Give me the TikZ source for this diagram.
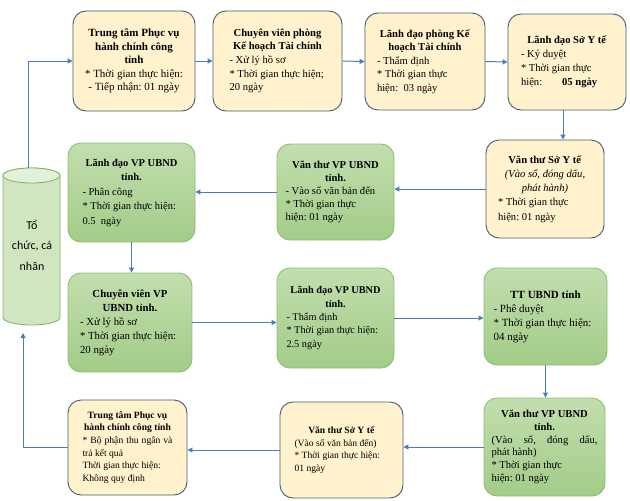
\documentclass[tikz,border=0pt]{standalone}
\usepackage{fontspec}
\setmainfont{Liberation Serif}
\newfontfamily\calib{Carlito}
\usetikzlibrary{arrows.meta}
\definecolor{yfill}{HTML}{FFF2CC}
\definecolor{ybord}{HTML}{4A5A6E}
\definecolor{gtop}{HTML}{C2DEAE}
\definecolor{gbot}{HTML}{A3CC88}
\definecolor{gbord}{HTML}{8DBF72}
\definecolor{cylf}{HTML}{D0E6C0}
\definecolor{cylt}{HTML}{E4F1DA}
\definecolor{cylb}{HTML}{7FB463}
\definecolor{arrc}{HTML}{4A7EBB}
\newcommand{\cl}[1]{\makebox[\hsize][c]{#1}}
\newcommand{\jl}[1]{\makebox[\hsize][s]{#1}}
\newcommand{\bl}[1]{\mbox{#1}}
\newcommand{\fs}[2]{\fontsize{#1}{#2}\selectfont}
\setlength{\parindent}{0pt}
\frenchspacing
\begin{document}
\begin{tikzpicture}[x=1pt,y=-1pt,
 box/.style={rectangle, rounded corners=13pt, line width=0.9pt, align=flush left, inner xsep=2pt, inner ysep=2pt},
 ybox/.style={box, draw=ybord, fill=yfill},
 gbox/.style={box, draw=gbord, top color=gtop, bottom color=gbot},
 arr/.style={draw=arrc, line width=1pt, -{Triangle[length=5pt,width=5pt]}}
 ]
\useasboundingbox (0,0) rectangle (630,501);
\fill[white] (0,0) rectangle (630,501);

% cylinder
\path[draw=cylb, fill=cylf, line width=0.8pt] (3,175.5) -- (3,317.5)
  arc[start angle=180, end angle=360, x radius=28.5pt, y radius=7.5pt] -- (60,175.5)
  arc[start angle=0, end angle=180, x radius=28.5pt, y radius=7.5pt] -- cycle;
\path[draw=cylb, fill=cylt, line width=0.8pt] (31.5,175.5) ellipse[x radius=28.5pt, y radius=7.5pt];
\node[font=\calib\fs{12}{20.5}, align=center] (cyl) at (32,245) {Tổ\\chức, cá\\nhân};
\coordinate (cyltop) at (28,168);
\coordinate (cylbot) at (23,333);

% row 1
\node[ybox, minimum width=122pt, minimum height=100pt, text width=112pt, align=flush center, font=\fs{11}{13.6}] (b1) at (134,61)
 {\bl{\textbf{Trung tâm Phục vụ}}\\\bl{\textbf{hành chính công}}\\\textbf{tỉnh}\\\bl{* Thời gian thực hiện:}\\\bl{- Tiếp nhận: 01 ngày}};
\node[ybox, minimum width=129pt, minimum height=100pt, text width=96pt, font=\fs{10.6}{13.6}] (b2) at (277.5,61)
 {\cl{\textbf{Chuyên viên phòng}}\\\cl{\textbf{Kế hoạch Tài chính}}\\\bl{- Xử lý hồ sơ}\\\bl{* Thời gian thực hiện;}\\\bl{20 ngày}};
\node[ybox, minimum width=120pt, minimum height=97pt, text width=96pt, font=\fs{10.6}{13.6}] (b3) at (425,61.5)
 {\cl{\textbf{Lãnh đạo phòng Kế}}\\\cl{\textbf{hoạch Tài chính}}\\\bl{- Thẩm định}\\\bl{* Thời gian thực}\\\bl{hiện:\ \ 03 ngày}};
\node[ybox, minimum width=118pt, minimum height=96pt, text width=92pt, font=\fs{10.6}{14}] (b4) at (567,62)
 {\cl{\textbf{Lãnh đạo Sở Y tế}}\\\bl{- Ký duyệt}\\\bl{* Thời gian thực}\\\bl{hiện:\hspace{20pt}\textbf{05 ngày}}};

% row 2
\node[ybox, minimum width=118pt, minimum height=98pt, text width=94pt, font=\fs{10.6}{14.2}] (b5) at (545,189)
 {\cl{\textbf{Văn thư Sở Y tế}}\\\cl{\textit{(Vào sổ, đóng dấu,}}\\\cl{\textit{phát hành)}}\\\bl{* Thời gian thực}\\\bl{hiện: 01 ngày}};
\node[gbox, minimum width=117pt, minimum height=96pt, text width=100pt, font=\fs{10.6}{13.1}] (b6) at (335.5,192)
 {\cl{\textbf{Văn thư VP UBND}}\\\cl{\textbf{tỉnh.}}\\\bl{- Vào sổ văn bản đến}\\\bl{* Thời gian thực}\\\bl{hiện: 01 ngày}};
\node[gbox, minimum width=127pt, minimum height=99pt, text width=98pt, font=\fs{10.5}{14.5}] (b7) at (131.5,192.5)
 {\cl{\textbf{Lãnh đạo VP UBND}}\\\cl{\textbf{tỉnh.}}\\\bl{- Phân công}\\\bl{* Thời gian thực hiện:}\\\bl{0.5\ \ ngày}};

% row 3
\node[gbox, minimum width=124pt, minimum height=99pt, text width=100pt, font=\fs{10.8}{14}] (b8) at (130,322.5)
 {\cl{\textbf{Chuyên viên VP}}\\\cl{\textbf{UBND tỉnh.}}\\\bl{- Xử lý hồ sơ}\\\bl{* Thời gian thực hiện:}\\\bl{20 ngày}};
\node[gbox, minimum width=117pt, minimum height=100pt, text width=98pt, font=\fs{10.3}{13.3}] (b9) at (335.5,318)
 {\cl{\textbf{Lãnh đạo VP UBND}}\\\cl{\textbf{tỉnh.}}\\\bl{- Thẩm định}\\\bl{* Thời gian thực hiện:}\\\bl{2.5 ngày}};
\node[gbox, minimum width=123pt, minimum height=97pt, text width=104pt, font=\fs{11}{14}] (b10) at (545.5,316.5)
 {\cl{\textbf{TT UBND tỉnh}}\\\bl{- Phê duyệt}\\\bl{* Thời gian thực hiện:}\\\bl{04 ngày}};

% row 4
\node[gbox, minimum width=121pt, minimum height=98pt, text width=106pt, font=\fs{10.6}{12.8}] (b11) at (544.5,447)
 {\cl{\textbf{Văn thư VP UBND}}\\\cl{\textbf{tỉnh.}}\\\jl{(Vào sổ, đóng dấu,}\\\bl{phát hành)}\\\bl{* Thời gian thực}\\\bl{hiện: 01 ngày}};
\node[ybox, minimum width=123pt, minimum height=96pt, text width=94pt, font=\fs{9.6}{12.7}] (b12) at (341.5,450)
 {\cl{\textbf{Văn thư Sở Y tế}}\\\bl{(Vào sổ văn bản đến)}\\\bl{* Thời gian thực hiện:}\\\bl{01 ngày}};
\node[ybox, minimum width=119pt, minimum height=95pt, text width=90pt, font=\fs{9.6}{12.6}] (b13) at (127.5,447.5)
 {\cl{\textbf{Trung tâm Phục vụ}}\\\cl{\textbf{hành chính công tỉnh}}\\\jl{* Bộ phận thu ngân và}\\\bl{trả kết quả}\\\bl{Thời gian thực hiện:}\\\bl{Không quy định}};

% connectors
\draw[arr] (cyltop) |- (b1.west);
\draw[arr] (b1.east) -- (b2.west);
\draw[arr] (b2.east) -- (b3.west);
\draw[arr] (b3.east) -- (b4.west);
\draw[arr] ([xshift=-4pt]b4.south) -- ([xshift=-4pt]b4.south |- b5.north);
\draw[arr] (b5.west) -- (b5.west -| b6.east);
\draw[arr] (b6.west) -- (b6.west -| b7.east);
\draw[arr] (b7.south) -- (b7.south |- b8.north);
\draw[arr] (b8.east) -- (b8.east -| b9.west);
\draw[arr] (b9.east) -- (b9.east -| b10.west);
\draw[arr] (b10.south) -- (b10.south |- b11.north);
\draw[arr] (b11.west) -- (b11.west -| b12.east);
\draw[arr] (b12.west) -- (b12.west -| b13.east);
\draw[arr] (b13.west) -| (cylbot);
\end{tikzpicture}
\end{document}
